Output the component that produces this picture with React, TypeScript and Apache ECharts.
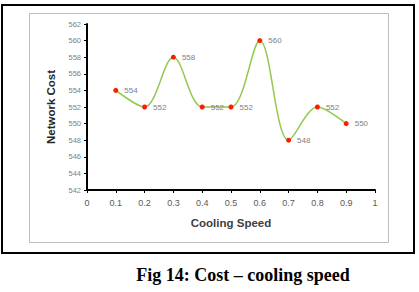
import React, { useEffect, useRef } from "react";
import * as echarts from "echarts";

const coolingSpeed = [0.1, 0.2, 0.3, 0.4, 0.5, 0.6, 0.7, 0.8, 0.9];
const networkCost = [554, 552, 558, 552, 552, 560, 548, 552, 550];
const caption = "Fig 14: Cost \u2013 cooling speed";

export default function App() {
  const ref = useRef<HTMLDivElement>(null);

  useEffect(() => {
    document.body.style.margin = "0";
    if (!ref.current) return;
    const chart = echarts.init(ref.current, null, { renderer: "svg" });
    const labelFont = "'Liberation Sans', 'DejaVu Sans', sans-serif";
    chart.setOption({
      animation: false,
      backgroundColor: "#ffffff",
      title: {
        text: caption,
        left: 238,
        top: 261,
        textAlign: "center",
        textStyle: {
          fontFamily: "'Liberation Serif', 'DejaVu Serif', serif",
          fontWeight: "bold",
          fontSize: 18,
          color: "#000",
        },
      },
      graphic: [
        {
          type: "rect",
          shape: { x: 2, y: 5, width: 412, height: 248 },
          style: { fill: "none", stroke: "#000", lineWidth: 2 },
          silent: true,
        },
        {
          type: "rect",
          shape: { x: 29.5, y: 13.5, width: 359, height: 229 },
          style: { fill: "none", stroke: "#bdbdbd", lineWidth: 1 },
          silent: true,
        },
      ],
      grid: { left: 87, right: 44, top: 24, bottom: 102 },
      xAxis: {
        type: "value",
        min: 0,
        max: 1,
        interval: 0.1,
        name: "Cooling Speed",
        nameLocation: "middle",
        nameGap: 27,
        nameTextStyle: { fontFamily: labelFont, fontWeight: "bold", fontSize: 11.5, color: "#404040" },
        axisLine: { show: true, lineStyle: { color: "#000", width: 2 } },
        axisTick: { show: true, length: 3, lineStyle: { color: "#000" } },
        axisLabel: { fontFamily: labelFont, fontSize: 9, color: "#595959", margin: 8 },
        splitLine: { show: false },
      },
      yAxis: {
        type: "value",
        min: 542,
        max: 562,
        interval: 2,
        name: "Network Cost",
        nameLocation: "middle",
        nameGap: 30,
        nameTextStyle: { fontFamily: labelFont, fontWeight: "bold", fontSize: 11.5, color: "#262626" },
        axisLine: { show: true, lineStyle: { color: "#000", width: 2 } },
        axisTick: { show: true, length: 3, lineStyle: { color: "#000" } },
        axisLabel: { fontFamily: labelFont, fontSize: 7.5, color: "#7f7f7f", margin: 6 },
        splitLine: { show: false },
      },
      series: [
        {
          type: "line",
          data: coolingSpeed.map((x, i) => [x, networkCost[i]]),
          smooth: 0.33,
          lineStyle: { color: "#92c94f", width: 1.5 },
          symbol: "circle",
          symbolSize: 5,
          itemStyle: { color: "#ff1a00" },
          label: {
            show: true,
            position: "right",
            distance: 6,
            fontFamily: labelFont,
            fontSize: 8,
            color: "#7f7f7f",
            formatter: (p: any) => String(p.value[1]),
          },
        },
      ],
    });
    return () => chart.dispose();
  }, []);

  return <div ref={ref} style={{ width: 419, height: 292 }} />;
}
